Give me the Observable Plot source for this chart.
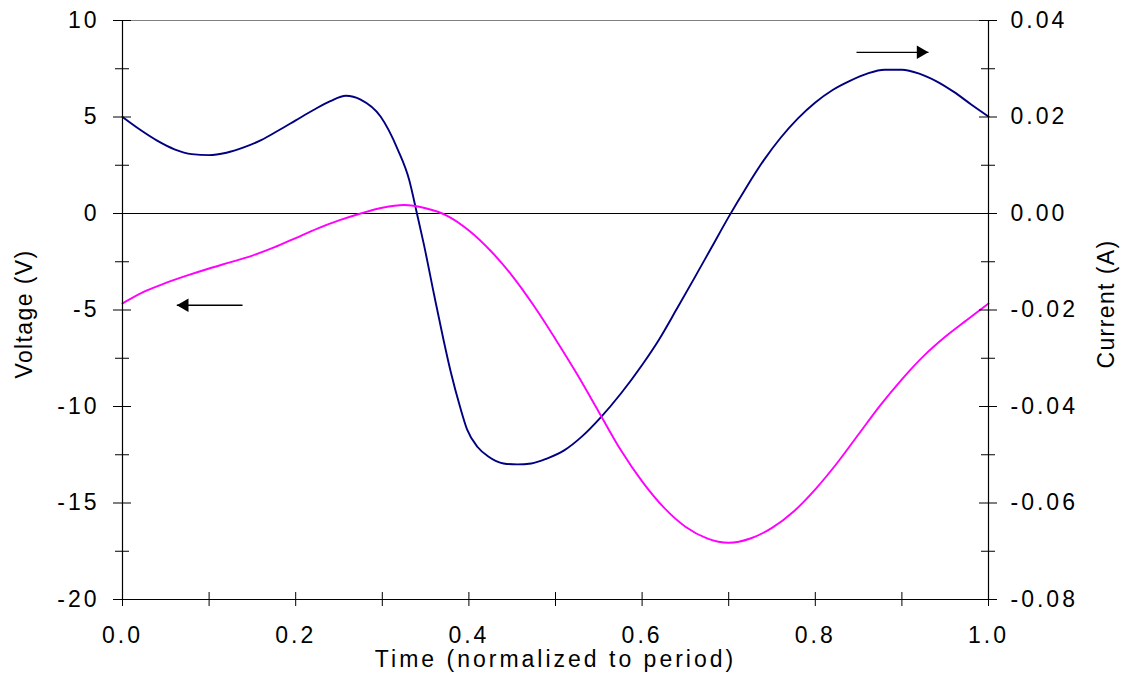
<!DOCTYPE html>
<html><head><meta charset="utf-8">
<script src="https://cdn.jsdelivr.net/npm/d3@7"></script>
<script src="https://cdn.jsdelivr.net/npm/@observablehq/plot@0.6"></script>
<style>
body{margin:0;background:#fff;}
#chart svg text{letter-spacing:3px;}
</style></head><body><div id="chart"></div>
<script>
// Voltage series (V), left axis
const voltT = [0, 0.025, 0.05, 0.075, 0.10, 0.125, 0.15, 0.175, 0.20, 0.225, 0.25, 0.275, 0.30, 0.325, 0.35, 0.375, 0.40, 0.425, 0.45, 0.475, 0.50, 0.525, 0.55, 0.575, 0.60, 0.625, 0.65, 0.675, 0.70, 0.725, 0.75, 0.775, 0.80, 0.825, 0.85, 0.875, 0.90, 0.925, 0.95, 0.975, 1.0];
const voltV = [-4.66, -4.05, -3.60, -3.21, -2.85, -2.52, -2.18, -1.76, -1.27, -0.78, -0.36, 0.00, 0.30, 0.44, 0.27, -0.12, -0.88, -1.93, -3.23, -4.78, -6.51, -8.33, -10.28, -12.23, -13.88, -15.23, -16.23, -16.83, -17.06, -16.84, -16.29, -15.44, -14.29, -12.94, -11.44, -9.94, -8.59, -7.39, -6.39, -5.52, -4.67];
// Current series (A), right axis
const currT = [0, 0.02, 0.04, 0.06, 0.08, 0.10, 0.12, 0.14, 0.16, 0.18, 0.20, 0.22, 0.24, 0.258, 0.275, 0.298, 0.318, 0.331, 0.340, 0.348, 0.360, 0.370, 0.379, 0.390, 0.398, 0.410, 0.422, 0.440, 0.456, 0.472, 0.490, 0.510, 0.530, 0.552, 0.576, 0.60, 0.62, 0.64, 0.66, 0.68, 0.70, 0.72, 0.74, 0.76, 0.78, 0.80, 0.82, 0.84, 0.86, 0.88, 0.90, 0.92, 0.94, 0.96, 0.98, 1.0];
const currA = [0.0200, 0.0174, 0.0151, 0.0133, 0.0123, 0.0121, 0.0126, 0.0137, 0.0152, 0.0172, 0.0193, 0.0214, 0.0233, 0.0244, 0.0236, 0.0201, 0.0132, 0.0070, 0.0000, -0.0064, -0.0170, -0.0256, -0.0328, -0.0402, -0.0448, -0.0484, -0.0503, -0.0518, -0.0520, -0.0518, -0.0508, -0.0491, -0.0463, -0.0423, -0.0372, -0.0314, -0.0260, -0.0198, -0.0135, -0.0071, -0.0007, 0.0053, 0.0109, 0.0157, 0.0197, 0.0230, 0.0256, 0.0275, 0.0290, 0.0298, 0.0298, 0.0290, 0.0274, 0.0252, 0.0226, 0.0201];

// Axes
const timeTicks = [0, 0.1, 0.2, 0.3, 0.4, 0.5, 0.6, 0.7, 0.8, 0.9, 1.0];
const timeLabels = [0, 0.2, 0.4, 0.6, 0.8, 1.0];
const voltTicks = [-20, -15, -10, -5, 0, 5, 10];
const voltMinor = [-17.5, -12.5, -7.5, -2.5, 2.5, 7.5];
const currTicks = [-0.08, -0.06, -0.04, -0.02, 0.00, 0.02, 0.04];
const xTitle = "Time (normalized to period)";
const yTitleLeft = "Voltage (V)";
const yTitleRight = "Current (A)";

// Annotation arrows: [tail t, tip t, value]
const voltArrow = [0.1386, 0.0627, -4.75];
const currArrow = [0.8476, 0.9307, 0.0334];

const xDomain = [timeTicks[0], timeTicks[timeTicks.length - 1]];
const yDomain = [voltTicks[0], voltTicks[voltTicks.length - 1]];
// ratio mapping current (A) onto the voltage scale
const k = (yDomain[1] - yDomain[0]) / (currTicks[currTicks.length - 1] - currTicks[0]);

const voltData = voltT.map((t, i) => ({t, v: voltV[i]}));
const currData = currT.map((t, i) => ({t, v: currA[i] * k}));
const arrowL = [{t1: voltArrow[0], t2: voltArrow[1], v: voltArrow[2]}];
const arrowR = [{t1: currArrow[0], t2: currArrow[1], v: currArrow[2] * k}];

const chart = Plot.plot({
  width: 1124,
  height: 674,
  marginLeft: 122,
  marginRight: 136,
  marginTop: 20,
  marginBottom: 75,
  style: {fontFamily: "'Liberation Sans', Arial, sans-serif", fontSize: "23px", color: "black", background: "white", overflow: "visible"},
  x: {domain: xDomain},
  y: {domain: yDomain},
  marks: [
    Plot.ruleY([yDomain[1]], {stroke: "#808080", strokeWidth: 1.2}),
    Plot.ruleY([0], {stroke: "black", strokeWidth: 1}),
    Plot.line(currData, {x: "t", y: "v", stroke: "#000080", strokeWidth: 1.9, curve: "monotone-x"}),
    Plot.line(voltData, {x: "t", y: "v", stroke: "#ff00ff", strokeWidth: 1.9, curve: "monotone-x"}),
    Plot.ruleX([xDomain[0], xDomain[1]], {stroke: "black", strokeWidth: 1.2}),
    Plot.ruleY([yDomain[0]], {stroke: "black", strokeWidth: 1.2}),
    Plot.ruleX(timeTicks, {y1: yDomain[0], y2: yDomain[0], insetTop: -7, insetBottom: -7, stroke: "black", strokeWidth: 1}),
    Plot.ruleY(voltTicks, {x1: xDomain[0], x2: xDomain[0], insetLeft: -9, insetRight: -9, stroke: "black", strokeWidth: 1}),
    Plot.ruleY(voltTicks, {x1: xDomain[1], x2: xDomain[1], insetLeft: -9, insetRight: -9, stroke: "black", strokeWidth: 1}),
    Plot.ruleY(voltMinor, {x1: xDomain[0], x2: xDomain[0], insetLeft: -7, insetRight: -7, stroke: "black", strokeWidth: 1}),
    Plot.ruleY(voltMinor, {x1: xDomain[1], x2: xDomain[1], insetLeft: -7, insetRight: -7, stroke: "black", strokeWidth: 1}),
    Plot.axisX(timeLabels, {label: null, tickSize: 0, tickPadding: 27, tickFormat: (d) => d.toFixed(1)}),
    Plot.axisY(voltTicks, {anchor: "left", label: null, tickSize: 0, tickPadding: 23, tickFormat: (d) => String(d)}),
    Plot.axisY(currTicks.map((a) => a * k), {anchor: "right", label: null, tickSize: 0, tickPadding: 22, tickFormat: (d) => (d / k).toFixed(2)}),
    Plot.text([xTitle], {frameAnchor: "bottom", dy: 60.5, text: (d) => d, lineAnchor: "middle", textAnchor: "middle", fontSize: 23}),
    Plot.text([yTitleLeft], {frameAnchor: "left", dx: -97.7, dy: 4, rotate: -90, text: (d) => d, lineAnchor: "middle", textAnchor: "middle", fontSize: 23}),
    Plot.text([yTitleRight], {frameAnchor: "right", dx: 118, dy: -6, rotate: -90, text: (d) => d, lineAnchor: "middle", textAnchor: "middle", fontSize: 23}),
    Plot.link(arrowL, {x1: "t1", x2: "t2", y1: "v", y2: "v", stroke: "black", strokeWidth: 1.4}),
    Plot.link(arrowR, {x1: "t1", x2: "t2", y1: "v", y2: "v", stroke: "black", strokeWidth: 1.4}),
    Plot.dot(arrowL, {x: "t2", y: "v", symbol: "triangle", r: 5, fill: "black", stroke: null, rotate: -90, dx: 7.8}),
    Plot.dot(arrowR, {x: "t2", y: "v", symbol: "triangle", r: 5, fill: "black", stroke: null, rotate: 90, dx: -7.8})
  ]
});
document.getElementById("chart").appendChild(chart);
d3.select(chart).selectAll("text")
  .filter(function () { return this.textContent === yTitleLeft || this.textContent === yTitleRight; })
  .style("letter-spacing", "1.4px");
</script>
</body></html>
